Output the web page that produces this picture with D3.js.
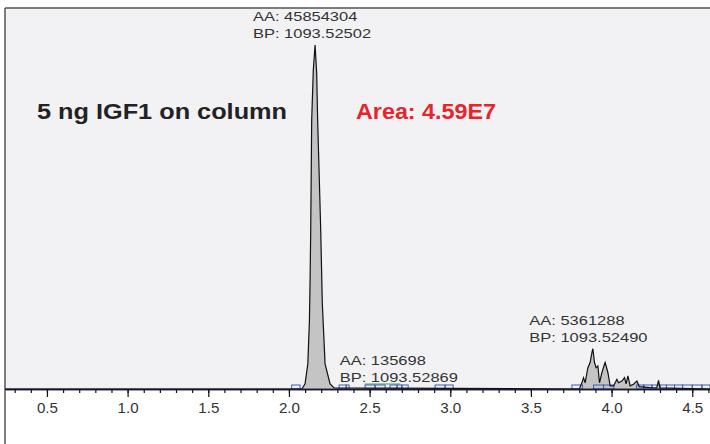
<!DOCTYPE html>
<html>
<head>
<meta charset="utf-8">
<script src="https://cdn.jsdelivr.net/npm/d3@7"></script>
<style>
  body { margin: 0; background: #fff; }
  svg { display: block; }
</style>
</head>
<body>
<svg id="chart" width="710" height="444"></svg>
<script>
// retention time (min) and relative abundance of the extracted ion trace
var traceTime = [0.24, 2.08, 2.100, 2.117, 2.127, 2.131, 2.135, 2.141, 2.151, 2.162,
  2.172, 2.178, 2.188, 2.197, 2.207, 2.224, 2.255, 2.28,
  3.80, 3.816, 3.826, 3.836, 3.853, 3.867, 3.878, 3.884, 3.894, 3.904, 3.915, 3.925,
  3.940, 3.956, 3.960, 3.977, 3.991, 4.012, 4.033, 4.043, 4.064, 4.080, 4.090, 4.101,
  4.115, 4.136, 4.157, 4.171, 4.24, 4.28, 4.291, 4.30, 4.61];
var traceAbundance = [0, 0, 1.5, 7.3, 19.8, 31.5, 46, 78, 92.7, 100,
  91.8, 78, 61.5, 46, 24.8, 7.3, 1.5, 0.3,
  0, 1.8, 3.3, 1.8, 6.2, 7.7, 10.6, 11.7, 7.7, 6.2, 6.7, 1.8,
  4.8, 7.2, 7.7, 4.8, 0.9, 0.9, 2.8, 1.8, 2.3, 3.3, 1.5, 3.8,
  0.9, 1.4, 2.3, 0.7, 0.4, 0.3, 2.5, 0.3, 0];

// integration window markers on the baseline
var boxStart = [2.017, 2.311, 2.355, 2.472, 2.534, 2.627, 2.670, 2.700, 2.906, 2.968,
  3.754, 3.888, 3.950, 4.155, 4.20, 4.25, 4.30, 4.34, 4.39, 4.44, 4.50, 4.56];
var boxEnd = [2.069, 2.355, 2.373, 2.534, 2.596, 2.670, 2.700, 2.739, 2.968, 3.018,
  3.820, 3.950, 4.015, 4.20, 4.25, 4.30, 4.34, 4.39, 4.44, 4.50, 4.56, 4.61];

var tickValues = d3.range(3, 47).map(function (d) { return d / 10; });
var tickLabels = [0.5, 1.0, 1.5, 2.0, 2.5, 3.0, 3.5, 4.0, 4.5];

var peakLabels = [
  ["AA: 45854304", "BP: 1093.52502"],
  ["AA: 135698", "BP: 1093.52869"],
  ["AA: 5361288", "BP: 1093.52490"]
];
var peakLabelTime = [1.777, 2.315, 3.49];
var peakLabelAbundance = [107.0, 7.0, 18.6];

var svg = d3.select("#chart");

var x = d3.scaleLinear().domain([0.24, 4.61]).range([5, 710]);
var y = d3.scaleLinear().domain([0, 100]).range([389, 45]);

// stretch text horizontally like the source image
function stretch(sel, k) {
  sel.each(function () {
    var w = this.getComputedTextLength();
    d3.select(this).attr("textLength", w * k).attr("lengthAdjust", "spacingAndGlyphs");
  });
}

// plot background and frame
svg.append("rect")
  .attr("x", 5).attr("y", 8)
  .attr("width", 705).attr("height", 381)
  .attr("fill", "#f2f2f5");
svg.append("line")
  .attr("x1", 5).attr("x2", 710).attr("y1", 8).attr("y2", 8)
  .attr("stroke", "#555").attr("stroke-width", 1.5);
svg.append("line")
  .attr("x1", 5).attr("x2", 5).attr("y1", 8).attr("y2", 444)
  .attr("stroke", "#555").attr("stroke-width", 1.5);

var points = traceTime.map(function (t, i) { return [t, traceAbundance[i]]; });

var area = d3.area()
  .x(function (d) { return x(d[0]); })
  .y0(y(0))
  .y1(function (d) { return y(d[1]); });
var line = d3.line()
  .x(function (d) { return x(d[0]); })
  .y(function (d) { return y(d[1]); });

svg.append("path")
  .datum(points)
  .attr("d", area)
  .attr("fill", "#c4c4c4");

// green baseline segment
svg.append("line")
  .attr("x1", x(2.47)).attr("x2", x(2.69))
  .attr("y1", y(0) - 5).attr("y2", y(0) - 5)
  .attr("stroke", "#3caa3c").attr("stroke-width", 1);

svg.selectAll("rect.box")
  .data(boxStart)
  .enter()
  .append("rect")
  .attr("class", "box")
  .attr("x", function (d) { return x(d); })
  .attr("y", y(0) - 4)
  .attr("width", function (d, i) { return x(boxEnd[i]) - x(d); })
  .attr("height", 4)
  .attr("fill", "none")
  .attr("stroke", "#3a5bc0")
  .attr("stroke-width", 1);

svg.append("path")
  .datum(points)
  .attr("d", line)
  .attr("fill", "none")
  .attr("stroke", "#111")
  .attr("stroke-width", 1.2);

// x axis: minor and major ticks
var minorAxis = d3.axisBottom(x)
  .tickValues(tickValues)
  .tickSize(4)
  .tickSizeOuter(0)
  .tickFormat("");
var majorAxis = d3.axisBottom(x)
  .tickValues(tickLabels)
  .tickSize(8)
  .tickSizeOuter(0)
  .tickPadding(6)
  .tickFormat(d3.format(".1f"));

var gMinor = svg.append("g")
  .attr("transform", "translate(0," + y(0) + ")")
  .call(minorAxis);
var gMajor = svg.append("g")
  .attr("transform", "translate(0," + y(0) + ")")
  .call(majorAxis);

[gMinor, gMajor].forEach(function (g) {
  g.select(".domain").attr("stroke", "#1a1a33").attr("stroke-width", 1.5);
  g.selectAll(".tick line").attr("stroke", "#111").attr("stroke-width", 1.2);
});
gMajor.selectAll(".tick text")
  .attr("font-family", "Arial, 'Liberation Sans', sans-serif")
  .attr("font-size", "14px")
  .attr("fill", "#333")
  .call(stretch, 1.08);

// peak annotations
peakLabels.forEach(function (lines, i) {
  lines.forEach(function (s, j) {
    svg.append("text")
      .attr("x", x(peakLabelTime[i]))
      .attr("y", y(peakLabelAbundance[i]) + j * 17)
      .attr("font-family", "Arial, 'Liberation Sans', sans-serif")
      .attr("font-size", "13.5px")
      .attr("fill", "#333")
      .text(s)
      .call(stretch, 1.22);
  });
});

svg.append("text")
  .attr("x", 37).attr("y", 119)
  .attr("font-family", "Arial, 'Liberation Sans', sans-serif")
  .attr("font-weight", "bold")
  .attr("font-size", "22px")
  .attr("fill", "#222")
  .text("5 ng IGF1 on column")
  .attr("textLength", 250)
  .attr("lengthAdjust", "spacingAndGlyphs");

svg.append("text")
  .attr("x", 356).attr("y", 119)
  .attr("font-family", "Arial, 'Liberation Sans', sans-serif")
  .attr("font-weight", "bold")
  .attr("font-size", "22px")
  .attr("fill", "#e8232b")
  .text("Area: 4.59E7")
  .attr("textLength", 140)
  .attr("lengthAdjust", "spacingAndGlyphs");
</script>
</body>
</html>
